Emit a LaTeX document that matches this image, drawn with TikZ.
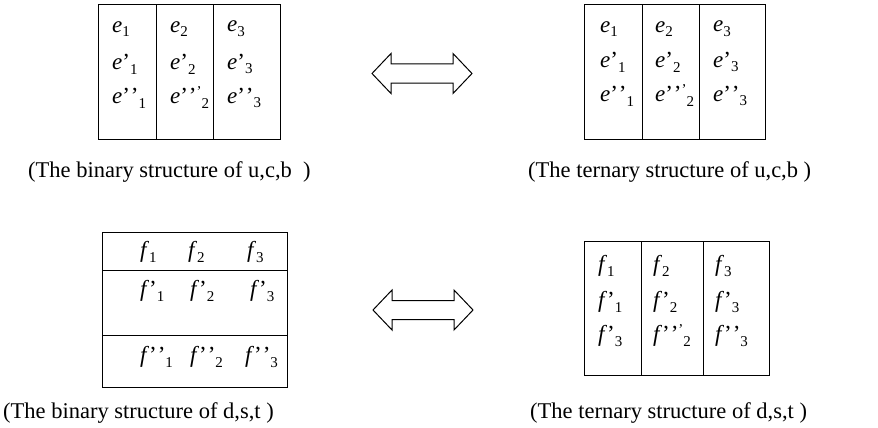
\documentclass[tikz,border=0pt]{standalone}
\usepackage{fontspec}
\setmainfont{Liberation Serif}
\usepackage{tikz}
\usetikzlibrary{positioning}
\newcommand{\ent}[3]{\textit{#1}#2\raisebox{-0.45ex}{\fontsize{15}{15}\selectfont #3}}
\newcommand{\pp}{'{}\kern0.04em'}
\newcommand{\subtick}[1]{\smash{\raisebox{1.7ex}{'}}#1}

\begin{document}
\begin{tikzpicture}[x=1pt, y=-1pt,
    grid/.style={draw=black, line width=1pt},
    cell/.style={anchor=west, inner sep=0pt, font=\fontsize{23}{25}\selectfont},
    caption/.style={anchor=west, inner sep=0pt, font=\fontsize{22.5}{24}\selectfont},
    swap/.style={draw=black, line width=1pt, fill=white}
]
\useasboundingbox (0,0) rectangle (878,428);

% u,c,b binary
\draw[grid] (98,5) rectangle (280,139);
\draw[grid] (156,5) -- (156,139);
\draw[grid] (213,5) -- (213,139);
\node[cell] (b11) at (112,29) {\ent{e}{}{1}};
\node[cell] (b12) at (170,29) {\ent{e}{}{2}};
\node[cell] (b13) at (227,29) {\ent{e}{}{3}};
\node[cell] (b21) at (112,64) {\ent{e}{'}{1}};
\node[cell] (b22) at (170,64) {\ent{e}{'}{2}};
\node[cell] (b23) at (227,64) {\ent{e}{'}{3}};
\node[cell] (b31) at (112,98) {\ent{e}{\pp}{1}};
\node[cell] (b32) at (170,98) {\ent{e}{\pp}{\subtick{2}}};
\node[cell] (b33) at (227,98) {\ent{e}{\pp}{3}};
\node[caption] (capucbbin) at (28,172) {(The binary structure of u,c,b\ \ )};

% u,c,b ternary
\draw[grid] (584,5) rectangle (765,139);
\draw[grid] (642,5) -- (642,139);
\draw[grid] (699,5) -- (699,139);
\node[cell] (t11) at (600,29) {\ent{e}{}{1}};
\node[cell] (t12) at (655,29) {\ent{e}{}{2}};
\node[cell] (t13) at (713,29) {\ent{e}{}{3}};
\node[cell] (t21) at (600,62) {\ent{e}{'}{1}};
\node[cell] (t22) at (655,62) {\ent{e}{'}{2}};
\node[cell] (t23) at (713,62) {\ent{e}{'}{3}};
\node[cell] (t31) at (600,96) {\ent{e}{\pp}{1}};
\node[cell] (t32) at (655,96) {\ent{e}{\pp}{\subtick{2}}};
\node[cell] (t33) at (713,96) {\ent{e}{\pp}{3}};
\node[caption] (capucbter) at (528,172) {(The ternary structure of u,c,b )};

% d,s,t binary
\draw[grid] (102,232) rectangle (287,387);
\draw[grid] (102,270) -- (287,270);
\draw[grid] (102,335) -- (287,335);
\node[cell] (p11) at (140,252) {\ent{f}{}{1}};
\node[cell] (p12) at (188,252) {\ent{f}{}{2}};
\node[cell] (p13) at (247,252) {\ent{f}{}{3}};
\node[cell] (p21) at (140,291) {\ent{f}{'}{1}};
\node[cell] (p22) at (190,291) {\ent{f}{'}{2}};
\node[cell] (p23) at (250,291) {\ent{f}{'}{3}};
\node[cell] (p31) at (140,357) {\ent{f}{\pp}{1}};
\node[cell] (p32) at (190,357) {\ent{f}{\pp}{2}};
\node[cell] (p33) at (245,357) {\ent{f}{\pp}{3}};
\node[caption] (capdstbin) at (3,413) {(The binary structure of d,s,t )};

% d,s,t ternary
\draw[grid] (584,241) rectangle (769,375);
\draw[grid] (641,241) -- (641,375);
\draw[grid] (703,241) -- (703,375);
\node[cell] (q11) at (598,266) {\ent{f}{}{1}};
\node[cell] (q12) at (653,266) {\ent{f}{}{2}};
\node[cell] (q13) at (715,266) {\ent{f}{}{3}};
\node[cell] (q21) at (598,302) {\ent{f}{'}{1}};
\node[cell] (q22) at (653,302) {\ent{f}{'}{2}};
\node[cell] (q23) at (715,302) {\ent{f}{'}{3}};
\node[cell] (q31) at (598,336) {\ent{f}{'}{3}};
\node[cell] (q32) at (653,336) {\ent{f}{\pp}{\subtick{2}}};
\node[cell] (q33) at (715,336) {\ent{f}{\pp}{3}};
\node[caption] (capdstter) at (530,413) {(The ternary structure of d,s,t )};

% double arrows
\coordinate (ucbswap) at (422,73.5);
\coordinate (dstswap) at (423,310);
\draw[swap] (ucbswap) ++(-50,0) -- ++(19,-20) -- ++(0,10.5) -- ++(62,0) -- ++(0,-10.5)
    -- ++(19,20) -- ++(-19,20) -- ++(0,-10.5) -- ++(-62,0) -- ++(0,10.5) -- cycle;
\draw[swap] (dstswap) ++(-50,0) -- ++(19,-20) -- ++(0,10.5) -- ++(62,0) -- ++(0,-10.5)
    -- ++(19,20) -- ++(-19,20) -- ++(0,-10.5) -- ++(-62,0) -- ++(0,10.5) -- cycle;
\end{tikzpicture}
\end{document}
